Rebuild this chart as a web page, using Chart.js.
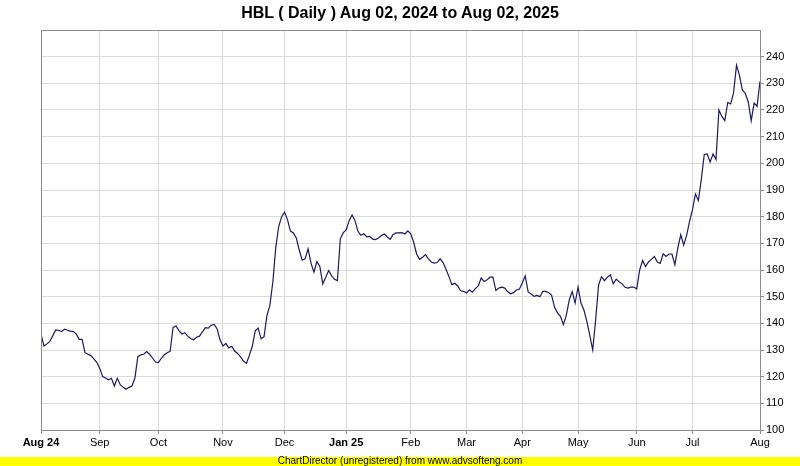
<!DOCTYPE html>
<html>
<head>
<meta charset="utf-8">
<script src="https://cdn.jsdelivr.net/npm/chart.js@4/dist/chart.umd.min.js"></script>
<style>
  html, body { margin: 0; padding: 0; background: #ffffff; }
  #wrap { position: relative; width: 800px; height: 466px; overflow: hidden; }
  #c { position: absolute; left: 0; top: 0; }
  #title { position: absolute; left: 0; top: 3px; width: 800px; text-align: center;
           font: bold 16px "Liberation Sans", Arial, sans-serif; color: #000; line-height: 20px; }
  #foot { position: absolute; left: 0; top: 457px; width: 800px; height: 9px; background: #ffff00;
          text-align: center; font: 10px "Liberation Sans", Arial, sans-serif; line-height: 8px; color: #000; }
</style>
</head>
<body>
<div id="wrap">
  <canvas id="c" width="800" height="466"></canvas>
  <div id="title">HBL ( Daily ) Aug 02, 2024 to Aug 02, 2025</div>
  <div id="foot">ChartDirector (unregistered) from www.advsofteng.com</div>
</div>
<script>
const chartTitle = "HBL ( Daily ) Aug 02, 2024 to Aug 02, 2025";
const monthLabels = ["Aug 24","Sep","Oct","Nov","Dec","Jan 25","Feb","Mar","Apr","May","Jun","Jul","Aug"];
const monthIndex  = [0,20,40,62,83,104,126,145,164,183,203,222,245];
const boldLabels  = ["Aug 24","Jan 25"];
const yTicks = [100,110,120,130,140,150,160,170,180,190,200,210,220,230,240];
const closes = [
  136,131.5,132.3,133.2,135.3,137.5,137.4,136.9,137.8,137.4,
  137.1,136.9,136,134,134,129,128.4,127.9,126.7,125.4,
  123.2,120,119.5,118.8,119.4,116.5,119.4,117,116,115.3,
  116,116.5,119.5,127.5,128.2,128.4,129.4,128.4,127,125.5,
  125.3,126.9,128.2,129,129.5,138.5,139,137.3,136,136.5,
  135.2,134.3,133.8,134.8,135.2,136.8,138.4,138.2,139.3,139.6,
  138,133.8,131.5,132.5,130.8,131.4,129.6,128.7,127.4,125.8,
  125,128,131.4,137.2,138.2,134.2,135,143,146.8,155.5,
  168.5,176.3,180,181.7,178.8,174.6,173.9,172,167.4,163.7,
  164.2,168,162.6,159.2,163.1,161.4,154.8,157.2,159.8,157.9,
  156.5,156,171.7,174,175,178.5,180.6,178.5,174.5,173,
  173.6,172.4,172.6,171.6,171.4,172,172.9,173.5,172.4,171.5,
  173.3,173.9,173.9,174,173.5,174.7,173.6,170.3,166,164,
  164.8,165.8,164.2,163,162.6,162.8,164.2,162.8,160.3,157.6,
  154.5,155,154,152.2,152,151.4,152.6,151.7,153,154,
  157,155.7,156.3,157.3,157.3,152.3,153.2,153.6,153.2,151.9,
  151.1,151.5,152.5,152.8,155.1,157.8,151.8,151,150.1,150.5,
  150,152,152,151.5,150.5,146,143.9,142.6,139.5,143,
  148.8,151.9,147.6,153.6,147.6,145,140.7,135.5,130,141.3,
  154.4,157.5,156,157.3,158.2,154.8,156.6,155.6,154.8,153.5,
  153.2,153.6,153.6,152.9,160,163.6,161.3,163,164,165.1,
  163,162.5,166.1,165.1,166,166,162,168.3,173.2,169.3,
  173,178.2,182.6,188.5,186,194,203.3,203.5,200.5,203.5,
  201.4,220,217.6,216,222.8,222.3,226.5,236.8,233,227.5,
  226.2,223,216,222.6,221.4,230.8
];

const FONT = '"Liberation Sans", Arial, sans-serif';
const borderPlugin = {
  id: 'plotBorder',
  afterDatasetsDraw(chart) {
    const a = chart.chartArea, ctx = chart.ctx;
    ctx.save();
    ctx.strokeStyle = '#8c8c8c';
    ctx.lineWidth = 1;
    ctx.strokeRect(Math.round(a.left) + 0.5, Math.round(a.top) + 0.5,
                   Math.round(a.right - a.left), Math.round(a.bottom - a.top));
    ctx.restore();
  }
};

new Chart(document.getElementById('c'), {
  type: 'line',
  data: {
    datasets: [{
      data: closes.map((v, i) => ({ x: i, y: v })),
      borderColor: '#1b1b60',
      borderWidth: 1.2,
      pointRadius: 0,
      tension: 0,
      fill: false
    }]
  },
  options: {
    responsive: false,
    animation: false,
    events: [],
    layout: { padding: { left: 41, top: 30, right: 0, bottom: 0 } },
    plugins: { legend: { display: false }, title: { display: false }, tooltip: { enabled: false } },
    scales: {
      x: {
        type: 'linear',
        min: 0, max: closes.length - 1,
        afterBuildTicks(scale) { scale.ticks = monthIndex.map(v => ({ value: v })); },
        afterFit(scale) { scale.height = 36; },
        grid: { color: '#dcdcdc', tickColor: '#8c8c8c', tickLength: 4, drawOnChartArea: true },
        border: { color: '#8c8c8c' },
        ticks: {
          autoSkip: false, maxRotation: 0, padding: 2, color: '#000',
          callback(value) { const k = monthIndex.indexOf(value); return k >= 0 ? monthLabels[k] : ''; },
          font(ctx) {
            const k = ctx.tick ? monthIndex.indexOf(ctx.tick.value) : -1;
            const bold = k >= 0 && boldLabels.includes(monthLabels[k]);
            return { family: FONT, size: 11, weight: bold ? 'bold' : 'normal' };
          }
        }
      },
      y: {
        position: 'right',
        min: 100, max: 250,
        afterBuildTicks(scale) { scale.ticks = yTicks.map(v => ({ value: v })); },
        afterFit(scale) { scale.width = 40; },
        grid: { color: '#dcdcdc', tickColor: '#8c8c8c', tickLength: 4 },
        border: { color: '#8c8c8c' },
        ticks: { padding: 2, color: '#000', font: { family: FONT, size: 11 } }
      }
    }
  },
  plugins: [borderPlugin]
});
</script>
</body>
</html>
